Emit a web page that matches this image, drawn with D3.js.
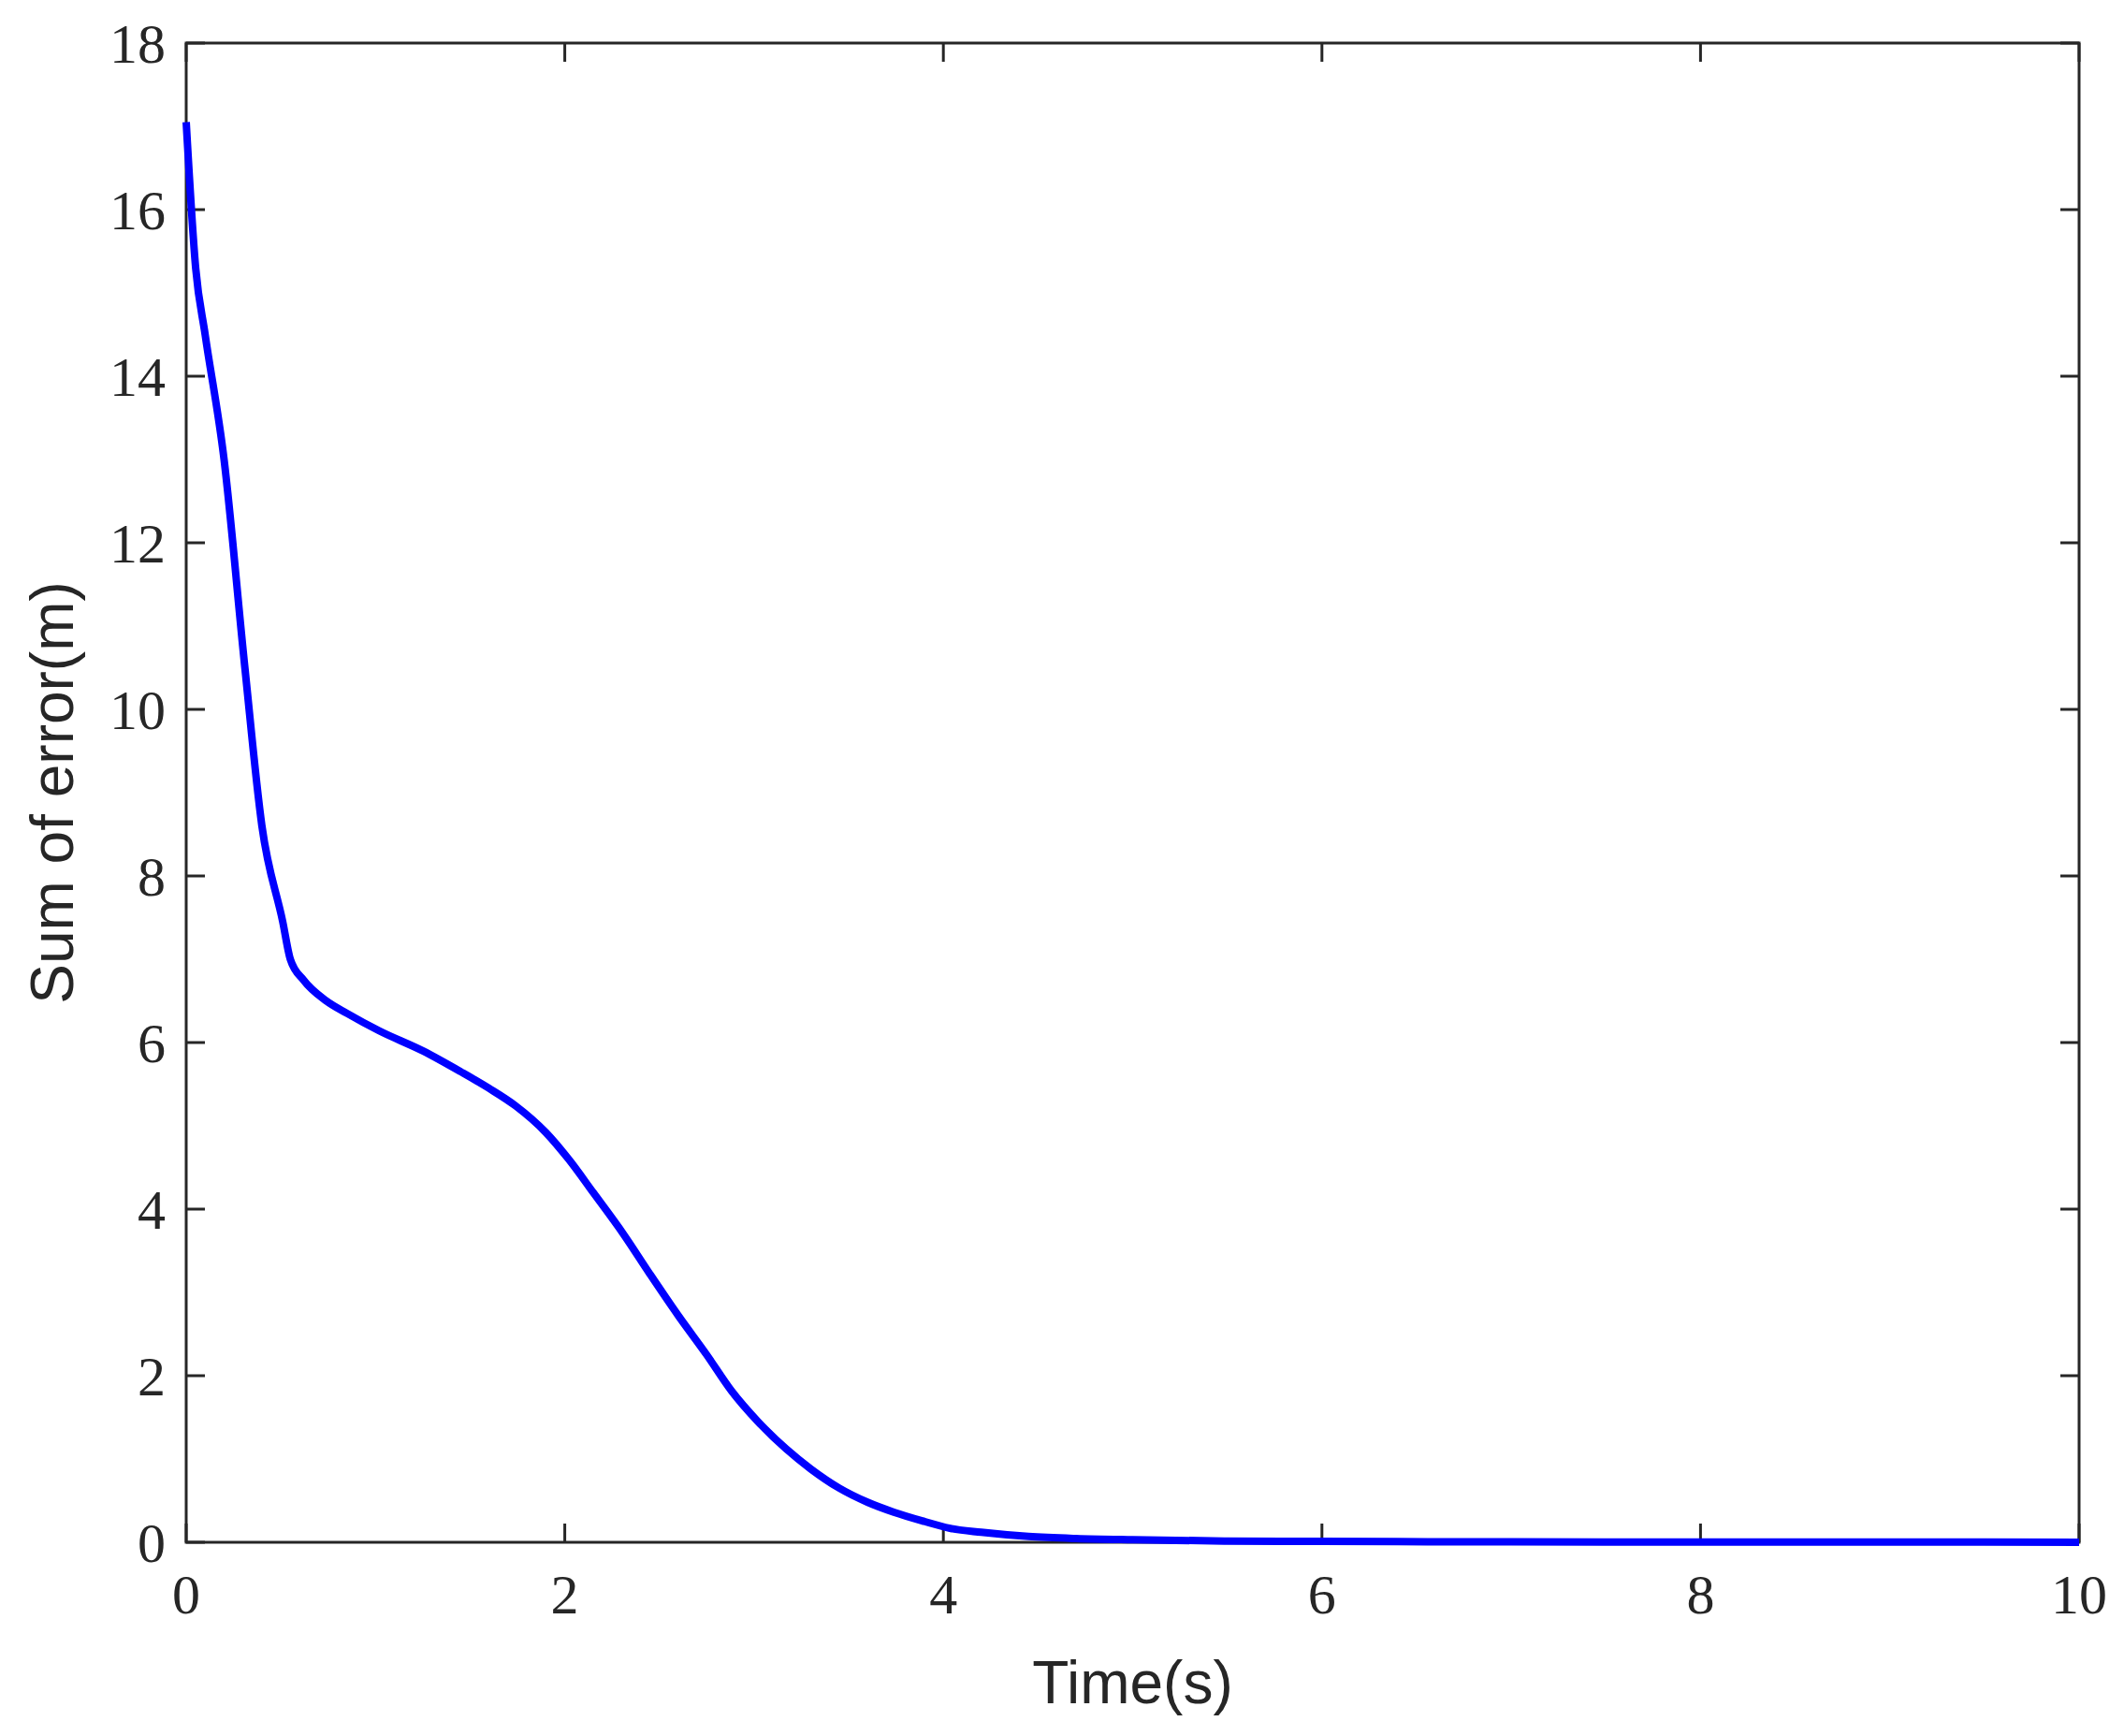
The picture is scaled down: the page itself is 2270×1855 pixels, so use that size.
<!DOCTYPE html><html><head><script src="https://cdn.jsdelivr.net/npm/d3@7"></script>
<style>body{margin:0;background:#fff}</style></head><body><svg id="c" width="2270" height="1855"></svg>
<script>
const timeS=[0,0.05,0.1,0.2,0.31,0.4,0.51,0.55,0.62,0.74,0.85,1.02,1.25,1.45,1.6,1.74,1.9,2.02,2.15,2.31,2.45,2.6,2.75,2.88,3.02,3.17,3.3,3.45,3.6,3.74,3.9,4.03,4.2,4.45,4.7,5,5.5,6,7,8,9,10];
const errorSum=[17.05,15.3,14.5,13.0,10.5,8.6,7.45,7.0,6.75,6.5,6.35,6.14,5.9,5.65,5.45,5.24,4.92,4.6,4.2,3.7,3.22,2.72,2.25,1.82,1.45,1.12,0.88,0.65,0.48,0.36,0.25,0.17,0.12,0.07,0.045,0.03,0.015,0.01,0.005,0.003,0.002,0.001];
const xTicks=[0,2,4,6,8,10], yTicks=[0,2,4,6,8,10,12,14,16,18];
const svg=d3.select("#c"), L=199,R=2222,T=46,B=1648;
const x=d3.scaleLinear([0,10],[L,R]), y=d3.scaleLinear([0,18],[B,T]);
const ink="#262626", tl=20;
svg.append("rect").attr("x",L).attr("y",T).attr("width",R-L).attr("height",B-T).attr("fill","none").attr("stroke",ink).attr("stroke-width",3);
const g=svg.append("g").attr("stroke",ink).attr("stroke-width",3);
xTicks.forEach(t=>{g.append("line").attr("x1",x(t)).attr("x2",x(t)).attr("y1",B).attr("y2",B-tl);g.append("line").attr("x1",x(t)).attr("x2",x(t)).attr("y1",T).attr("y2",T+tl);});
yTicks.forEach(t=>{g.append("line").attr("y1",y(t)).attr("y2",y(t)).attr("x1",L).attr("x2",L+tl);g.append("line").attr("y1",y(t)).attr("y2",y(t)).attr("x1",R).attr("x2",R-tl);});
const f="'Liberation Serif',serif";
xTicks.forEach(t=>svg.append("text").attr("x",x(t)).attr("y",B+76).attr("text-anchor","middle").attr("font-family",f).attr("font-size",60).attr("fill",ink).text(t));
yTicks.forEach(t=>svg.append("text").attr("x",L-22).attr("y",y(t)+21).attr("text-anchor","end").attr("font-family",f).attr("font-size",60).attr("fill",ink).text(t));
svg.append("text").attr("x",(L+R)/2).attr("y",1820).attr("text-anchor","middle").attr("font-family","'Liberation Sans',Arial,sans-serif").attr("font-size",64).attr("fill",ink).text("Time(s)");
svg.append("text").attr("transform",`translate(78,${(T+B)/2}) rotate(-90)`).attr("text-anchor","middle").attr("font-family","'Liberation Sans',Arial,sans-serif").attr("font-size",64).attr("fill",ink).text("Sum of error(m)");
svg.append("path").datum(timeS.map((t,i)=>[t,errorSum[i]])).attr("fill","none").attr("stroke","#0000ff").attr("stroke-width",8)
 .attr("d",d3.line().x(d=>x(d[0])).y(d=>y(d[1])).curve(d3.curveMonotoneX));
</script></body></html>
